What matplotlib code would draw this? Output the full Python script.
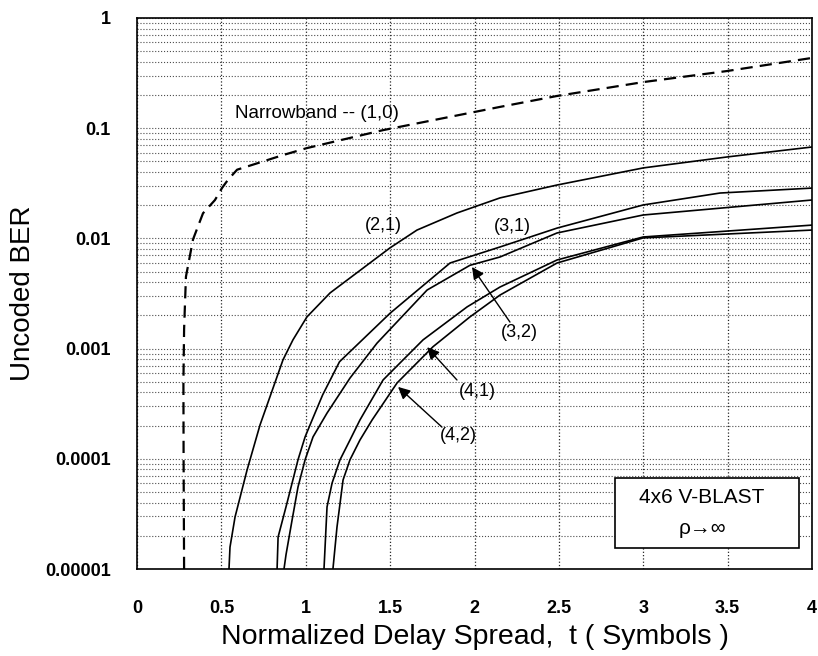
import matplotlib
matplotlib.use("Agg")
import matplotlib.pyplot as plt
from matplotlib.ticker import FixedLocator, FixedFormatter, NullFormatter
from matplotlib.patches import Rectangle

plt.rcParams['font.family'] = ['Liberation Sans', 'DejaVu Sans']

# values (delay spread in symbols, uncoded BER)
nb_x = [0.279, 0.276, 0.275, 0.279, 0.284, 0.290, 0.332, 0.391, 0.462, 0.504,
        0.539, 0.593, 0.865, 1.007, 1.458, 2.151, 2.489, 3.0, 3.496, 4.0]
nb_y = [1e-5, 1e-4, 5e-4, 1.5e-3, 2.5e-3, 4.5e-3, 9.8e-3, 0.0169, 0.0223, 0.0287,
        0.034, 0.042, 0.057, 0.066, 0.096, 0.156, 0.196, 0.262, 0.33, 0.434]

c21_x = [0.545, 0.551, 0.581, 0.652, 0.729, 0.865, 0.924, 1.007, 1.144, 1.499,
         1.659, 1.896, 2.151, 2.489, 3.0, 3.496, 4.0]
c21_y = [1e-5, 1.58e-5, 2.97e-5, 7.9e-5, 2.03e-4, 7.9e-4, 1.2e-3, 1.94e-3, 3.2e-3,
         8.2e-3, 0.0119, 0.017, 0.0233, 0.0305, 0.0436, 0.0548, 0.0675]

c31_x = [0.830, 0.836, 0.889, 0.924, 0.954, 0.996, 1.037, 1.10, 1.20, 1.499, 1.855,
         2.151, 2.489, 2.999, 3.455, 4.0]
c31_y = [1e-5, 1.95e-5, 3.98e-5, 6.46e-5, 9.8e-5, 1.58e-4, 2.24e-4, 3.8e-4, 7.6e-4,
         2.09e-3, 5.98e-3, 8.36e-3, 0.0124, 0.0201, 0.0258, 0.0286]

c32_x = [0.871, 0.883, 0.919, 0.954, 0.996, 1.043, 1.126, 1.262, 1.422, 1.719,
         1.973, 2.151, 2.489, 2.999, 4.0]
c32_y = [1e-5, 1.35e-5, 2.79e-5, 5.55e-5, 9.8e-5, 1.58e-4, 2.6e-4, 5.4e-4,
         1.12e-3, 3.4e-3, 5.7e-3, 6.78e-3, 0.0112, 0.0163, 0.0223]

c41_x = [1.108, 1.126, 1.156, 1.203, 1.262, 1.321, 1.458, 1.695, 1.956, 2.151,
         2.489, 2.999, 4.0]
c41_y = [1e-5, 3.66e-5, 6.03e-5, 9.8e-5, 1.48e-4, 2.25e-4, 5.19e-4, 1.2e-3,
         2.39e-3, 3.62e-3, 6.37e-3, 0.0103, 0.0132]

c42_x = [1.161, 1.185, 1.221, 1.262, 1.321, 1.393, 1.541, 1.754, 1.973, 2.151,
         2.489, 2.999, 4.0]
c42_y = [1e-5, 2.4e-5, 6.43e-5, 9.8e-5, 1.48e-4, 2.25e-4, 4.88e-4, 1.04e-3,
         1.94e-3, 3.06e-3, 5.98e-3, 0.0101, 0.0119]

xticks = [0, 0.5, 1, 1.5, 2, 2.5, 3, 3.5, 4]
xtick_labels = ['0', '0.5', '1', '1.5', '2', '2.5', '3', '3.5', '4']
yticks = [1e-5, 1e-4, 1e-3, 1e-2, 1e-1, 1]
ytick_labels = ['0.00001', '0.0001', '0.001', '0.01', '0.1', '1']

fig = plt.figure(figsize=(8.18, 6.56), dpi=100)
ax = fig.add_axes([0.1675, 0.1326, 0.8252, 0.84])

ax.plot(nb_x, nb_y, color='k', lw=1.6, dashes=(5.5, 3.2))
for xs, ys in [(c21_x, c21_y), (c31_x, c31_y), (c32_x, c32_y),
               (c41_x, c41_y), (c42_x, c42_y)]:
    ax.plot(xs, ys, color='k', lw=1.2)

ax.set_yscale('log')
ax.set_xlim(0, 4)
ax.set_ylim(1e-5, 1)
ax.xaxis.set_major_locator(FixedLocator(xticks))
ax.xaxis.set_major_formatter(FixedFormatter(xtick_labels))
ax.yaxis.set_major_locator(FixedLocator(yticks))
ax.yaxis.set_major_formatter(FixedFormatter(ytick_labels))
ax.yaxis.set_minor_formatter(NullFormatter())
ax.tick_params(which='both', length=0, labelsize=13)
ax.tick_params(axis='x', pad=22)
ax.tick_params(axis='y', pad=19)
for lab in ax.get_xticklabels() + ax.get_yticklabels():
    lab.set_fontweight('bold')

ax.grid(True, which='both', axis='y', linestyle=':', color='0.3', lw=0.8)
ax.grid(True, which='major', axis='x', linestyle=':', color='0.15', lw=0.9)
for s in ax.spines.values():
    s.set_linewidth(1.2)

ax.set_xlabel('Normalized Delay Spread,  t ( Symbols )', fontsize=20.5, va='center')
ax.xaxis.set_label_coords(0.5, -0.123)
ax.set_ylabel('Uncoded BER', fontsize=20, va='center')
ax.yaxis.set_label_coords(-0.169, 0.5)

# curve labels
ax.text(0.581, 0.137, 'Narrowband -- (1,0)', fontsize=13.5, va='center', ha='left')
ax.text(1.458, 0.0132, '(2,1)', fontsize=13, ha='center', va='center')
ax.text(2.222, 0.0127, '(3,1)', fontsize=13, ha='center', va='center')

arr = dict(arrowstyle='-|>', color='k', lw=1.0, mutation_scale=18, shrinkA=0, shrinkB=0)
ax.annotate('', xy=(1.985, 5.5e-3), xytext=(2.21, 1.74e-3), arrowprops=arr)
ax.text(2.264, 1.39e-3, '(3,2)', fontsize=13, ha='center', va='center')
ax.annotate('', xy=(1.719, 1.03e-3), xytext=(1.896, 5.19e-4), arrowprops=arr)
ax.text(2.015, 4.04e-4, '(4,1)', fontsize=13, ha='center', va='center')
ax.annotate('', xy=(1.547, 4.49e-4), xytext=(1.807, 1.94e-4), arrowprops=arr)
ax.text(1.902, 1.64e-4, '(4,2)', fontsize=13, ha='center', va='center')

# info box
ax.add_patch(Rectangle((0.708, 0.038), 0.273, 0.127, transform=ax.transAxes,
                       facecolor='white', edgecolor='k', lw=1.2, zorder=5))
ax.text(0.837, 0.129, '4x6 V-BLAST', transform=ax.transAxes, fontsize=15,
        ha='center', va='center', zorder=6)
ax.text(0.837, 0.074, 'ρ→∞', transform=ax.transAxes, fontsize=15,
        ha='center', va='center', zorder=6)

fig.savefig('out.png', dpi=100)
